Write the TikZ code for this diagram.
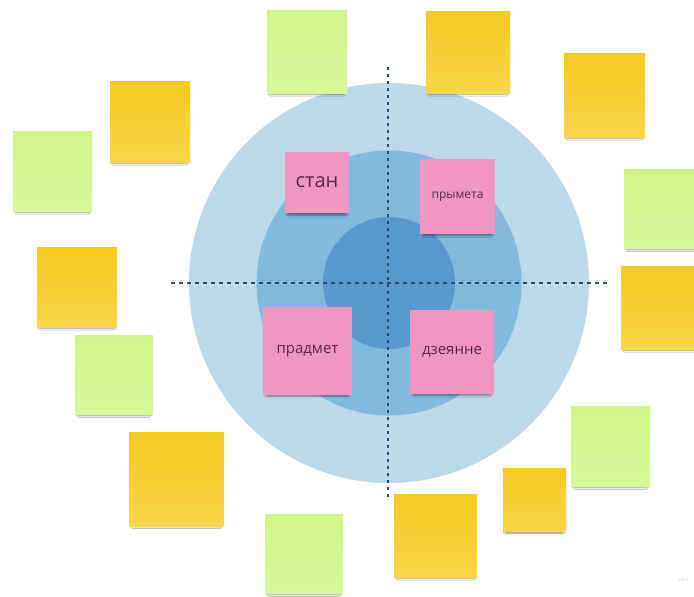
\documentclass[tikz,border=0pt]{standalone}
\usepackage{fontspec}
\setmainfont{Open Sans}
\usetikzlibrary{shadows.blur}
\definecolor{ringOuter}{HTML}{BDD7EB}
\definecolor{ringMid}{HTML}{82BADD}
\definecolor{ringIn}{HTML}{5A99CE}
\definecolor{pinkNote}{HTML}{EF96C2}
\definecolor{yelT}{HTML}{F5CA22}
\definecolor{yelB}{HTML}{F8D54A}
\definecolor{grnT}{HTML}{D1F488}
\definecolor{grnB}{HTML}{D8F79C}
\definecolor{inkText}{HTML}{5A2748}
\definecolor{dashInk}{HTML}{2D4A6E}
\begin{document}
\begin{tikzpicture}[x=1pt,y=-1pt,
  sticky/.style={rectangle, inner sep=0pt, outer sep=0pt,
    blur shadow={shadow xshift=0pt, shadow yshift=-5pt, shadow scale=0.92,
      shadow opacity=45, shadow blur radius=2pt}},
  ynote/.style={sticky, top color=yelT, bottom color=yelB},
  gnote/.style={sticky, top color=grnT, bottom color=grnB},
  pnote/.style={sticky, fill=pinkNote, text=inkText, align=center},
  ring/.style={circle, inner sep=0pt, outer sep=0pt},
  hdash/.style={draw=dashInk, line width=1.3pt, dash pattern=on 4pt off 4pt},
  vdash/.style={draw=dashInk, line width=1.3pt, dash pattern=on 2.5pt off 4.5pt}
]
\useasboundingbox (0,0) rectangle (694,597);
\fill[white] (0,0) rectangle (694,597);

% rings
\node[ring, fill=ringOuter, minimum size=400pt] (outer) at (389,283) {};
\node[ring, fill=ringMid, minimum size=265pt] (middle) at (389,283) {};
\node[ring, fill=ringIn, minimum size=132pt] (inner) at (389,283) {};

% crosshair
\coordinate (hL) at (171,283);
\coordinate (hR) at (608,283);
\coordinate (vT) at (388,67);
\coordinate (vB) at (388,500);
\draw[hdash] (hL) -- (hR);
\draw[vdash] (vT) -- (vB);

% pink notes
\node[pnote, minimum width=64pt, minimum height=61pt, font=\fontsize{20}{22}\selectfont] (stan) at (317,182.5) {стан};
\node[pnote, minimum width=75pt, minimum height=75pt, font=\fontsize{12}{14}\selectfont] (prymeta) at (457.5,196.5) {прымета};
\node[pnote, minimum width=89pt, minimum height=88pt, font=\fontsize{15}{17}\selectfont] (pradmet) at (307.5,351) {прадмет};
\node[pnote, minimum width=84pt, minimum height=84pt, font=\fontsize{15}{17}\selectfont] (dzeyanne) at (452,352) {дзеянне};

% yellow and green notes
\node[gnote, minimum width=80pt, minimum height=83pt] (g1) at (307,51.5) {};
\node[ynote, minimum width=84pt, minimum height=82pt] (y1) at (468,52) {};
\node[ynote, minimum width=80pt, minimum height=81pt] (y2) at (150,121.5) {};
\node[ynote, minimum width=81pt, minimum height=84pt] (y3) at (604.5,95) {};
\node[gnote, minimum width=79pt, minimum height=80pt] (g2) at (52.5,171) {};
\node[gnote, minimum width=80pt, minimum height=79pt] (g3) at (664,208.5) {};
\node[ynote, minimum width=80pt, minimum height=80pt] (y4) at (77,287) {};
\node[ynote, minimum width=80pt, minimum height=83pt] (y5) at (661,307.5) {};
\node[gnote, minimum width=78pt, minimum height=79pt] (g4) at (114,374.5) {};
\node[gnote, minimum width=79pt, minimum height=80pt] (g5) at (610.5,446) {};
\node[ynote, minimum width=95pt, minimum height=94pt] (y6) at (176.5,479) {};
\node[ynote, minimum width=63pt, minimum height=63pt] (y7) at (534.5,499.5) {};
\node[ynote, minimum width=83pt, minimum height=83pt] (y8) at (435.5,535.5) {};
\node[gnote, minimum width=78pt, minimum height=79pt] (g6) at (304,553.5) {};

% faint watermark
\node[text=black!18, font=\fontsize{5}{6}\selectfont, inner sep=0pt] (wm) at (683,580) {miro};
\end{tikzpicture}
\end{document}
